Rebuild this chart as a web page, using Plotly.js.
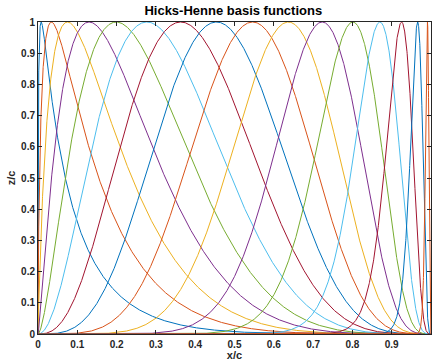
<!DOCTYPE html>
<html><head><meta charset="utf-8">
<script src="https://cdn.plot.ly/plotly-3.0.1.min.js"></script>
<style>html,body{margin:0;padding:0;background:#fff;}#chart{width:432px;height:361px;}</style>
</head><body><div id="chart"></div>
<script>
// Peak positions of the Hicks-Henne bumps
var peakLocations = [0.008, 0.034, 0.075, 0.130, 0.199, 0.277, 0.363, 0.454, 0.546, 0.637, 0.723, 0.801, 0.870, 0.925, 0.966, 0.991];
// Bump width exponent (sin^t)
var widthExponent = 4;
var xTickValues = [0, 0.1, 0.2, 0.3, 0.4, 0.5, 0.6, 0.7, 0.8, 0.9, 1];
var yTickValues = [0, 0.1, 0.2, 0.3, 0.4, 0.5, 0.6, 0.7, 0.8, 0.9, 1];
var seriesColors = ['#0072BD', '#D95319', '#EDB120', '#7E2F8E', '#77AC30', '#4DBEEE', '#A2142F'];

// sample positions along the chord (clustered at both ends)
var xs = [];
var N = 2000;
for (var i = 0; i <= N; i++) xs.push(0.5 * (1 - Math.cos(Math.PI * i / N)));

var traces = peakLocations.map(function (h, k) {
  var m = Math.log(0.5) / Math.log(h);
  var ys = xs.map(function (x) {
    var s = Math.sin(Math.PI * Math.pow(x, m));
    return Math.pow(Math.max(s, 0), widthExponent);
  });
  return {
    x: xs, y: ys, type: 'scatter', mode: 'lines',
    line: {color: seriesColors[k % seriesColors.length], width: 1},
    hoverinfo: 'skip', showlegend: false
  };
});

var axisCommon = {
  showgrid: false, zeroline: false, showline: true, linecolor: '#262626', linewidth: 1,
  mirror: 'ticks', ticks: 'inside', ticklen: 4, tickwidth: 1, tickcolor: '#262626',
  tickfont: {family: 'Liberation Sans, Arial, sans-serif', size: 10, color: '#262626', weight: 'bold'}
};

var layout = {
  width: 432, height: 361,
  margin: {l: 38, r: 1, t: 22, b: 27},
  paper_bgcolor: '#fff', plot_bgcolor: '#fff',
  title: {text: '<b>Hicks-Henne basis functions</b>', x: 0.54, xanchor: 'center', y: 0.972, yanchor: 'middle',
    font: {family: 'Liberation Sans, Arial, sans-serif', size: 13, color: '#000'}},
  xaxis: Object.assign({}, axisCommon, {range: [0, 1], tickvals: xTickValues, ticktext: xTickValues.map(String),
    ticklabelstandoff: 1,
    title: {text: '<b>x/c</b>', standoff: 9, font: {family: 'Liberation Sans, Arial, sans-serif', size: 11, color: '#262626'}}}),
  yaxis: Object.assign({}, axisCommon, {range: [0, 1], tickvals: yTickValues, ticktext: yTickValues.map(String),
    title: {text: '<b>z/c</b>', standoff: 3, font: {family: 'Liberation Sans, Arial, sans-serif', size: 11, color: '#262626'}}})
};

Plotly.newPlot('chart', traces, layout, {displayModeBar: false, staticPlot: true});
</script></body></html>
